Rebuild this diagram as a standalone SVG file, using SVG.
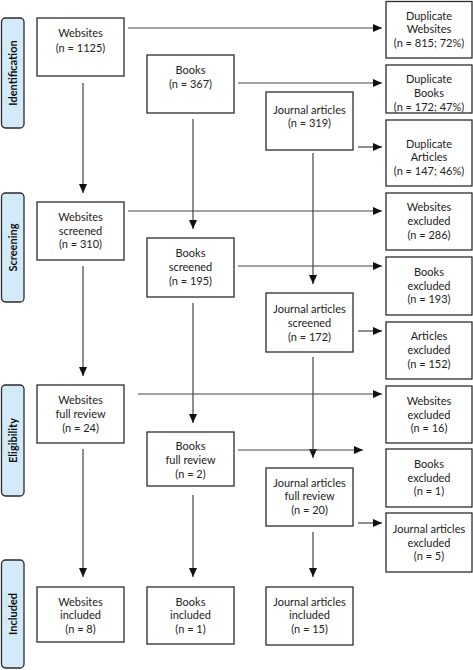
<svg xmlns="http://www.w3.org/2000/svg" width="473" height="670" viewBox="0 0 473 670">
<defs>
<style>
.bg{fill:#ffffff}
.box{fill:#ffffff;stroke:#2b2b2b;stroke-width:1.3}
.stage{fill:#d3eaf9;stroke:#2b2b2b;stroke-width:1.3}
.t{font-family:Lato,"Liberation Sans",sans-serif;font-size:11px;fill:#222;text-anchor:middle}
.st{font-family:Lato,"Liberation Sans",sans-serif;font-size:11px;font-weight:bold;fill:#111;text-anchor:middle}
.c{stroke:#444;stroke-width:1.2;fill:none;marker-end:url(#ah)}
</style>
<marker id="ah" markerUnits="userSpaceOnUse" markerWidth="9" markerHeight="8" refX="9" refY="4" orient="auto">
<path d="M0,0 L9,4 L0,8 z" fill="#111"/>
</marker>
</defs>
<rect class="bg" x="0" y="0" width="473" height="670"/>

<g id="stages">
<g id="stage-identification"><rect class="stage" x="1.5" y="18" width="22.5" height="110" rx="4"/><text class="st" transform="translate(16.5,73) rotate(-90)">Identification</text></g>
<g id="stage-screening"><rect class="stage" x="1.5" y="193" width="22.5" height="109" rx="4"/><text class="st" transform="translate(16.5,247.5) rotate(-90)">Screening</text></g>
<g id="stage-eligibility"><rect class="stage" x="1.5" y="385" width="22.5" height="111" rx="4"/><text class="st" transform="translate(16.5,440.5) rotate(-90)">Eligibility</text></g>
<g id="stage-included"><rect class="stage" x="1.5" y="560" width="22.5" height="108" rx="4"/><text class="st" transform="translate(16.5,614) rotate(-90)">Included</text></g>
</g>

<g id="connectors">
<line class="c" x1="128" y1="28" x2="382" y2="28"/>
<line class="c" x1="238" y1="83" x2="382" y2="83"/>
<line class="c" x1="358" y1="147" x2="382" y2="147"/>
<line class="c" x1="83" y1="83" x2="83" y2="193"/>
<line class="c" x1="193" y1="119" x2="193" y2="229"/>
<line class="c" x1="313" y1="153" x2="313" y2="284"/>
<line class="c" x1="128" y1="211" x2="382" y2="211"/>
<line class="c" x1="238" y1="266" x2="382" y2="266"/>
<line class="c" x1="358" y1="331" x2="382" y2="331"/>
<line class="c" x1="83" y1="266" x2="83" y2="376"/>
<line class="c" x1="193" y1="303" x2="193" y2="423"/>
<line class="c" x1="313" y1="357" x2="313" y2="458"/>
<line class="c" x1="138" y1="394" x2="382" y2="394"/>
<line class="c" x1="238" y1="450" x2="363" y2="450"/>
<line class="c" x1="358" y1="523" x2="382" y2="523"/>
<line class="c" x1="83" y1="449" x2="83" y2="577"/>
<line class="c" x1="193" y1="495" x2="193" y2="577"/>
<line class="c" x1="313" y1="532" x2="313" y2="577"/>
</g>

<g id="websites"><rect class="box" x="37" y="18" width="87" height="58"/><text class="t" x="80.5" y="37">Websites</text><text class="t" x="80.5" y="52">(n = 1125)</text></g>
<g id="books"><rect class="box" x="147" y="55" width="87" height="58"/><text class="t" x="190.5" y="74">Books</text><text class="t" x="190.5" y="88">(n = 367)</text></g>
<g id="journal"><rect class="box" x="266" y="92" width="87" height="58"/><text class="t" x="309.5" y="114">Journal articles</text><text class="t" x="309.5" y="127">(n = 319)</text></g>

<g id="dup-websites"><rect class="box" x="386" y="1.5" width="86" height="56.5"/><text class="t" x="429" y="20">Duplicate</text><text class="t" x="429" y="33">Websites</text><text class="t" x="429" y="47">(n = 815; 72%)</text></g>
<g id="dup-books"><rect class="box" x="386" y="65" width="86" height="48"/><text class="t" x="429" y="83">Duplicate</text><text class="t" x="429" y="97">Books</text><text class="t" x="429" y="111">(n = 172; 47%)</text></g>
<g id="dup-articles"><rect class="box" x="386" y="120" width="86" height="66"/><text class="t" x="429" y="148">Duplicate</text><text class="t" x="429" y="161">Articles</text><text class="t" x="429" y="175">(n = 147; 46%)</text></g>

<g id="websites-screened"><rect class="box" x="37" y="202" width="87" height="58"/><text class="t" x="80.5" y="221">Websites</text><text class="t" x="80.5" y="235">screened</text><text class="t" x="80.5" y="248">(n = 310)</text></g>
<g id="books-screened"><rect class="box" x="147" y="238" width="87" height="59"/><text class="t" x="190.5" y="257">Books</text><text class="t" x="190.5" y="271">screened</text><text class="t" x="190.5" y="285">(n = 195)</text></g>
<g id="journal-screened"><rect class="box" x="266" y="293" width="87" height="59"/><text class="t" x="309.5" y="313">Journal articles</text><text class="t" x="309.5" y="327">screened</text><text class="t" x="309.5" y="341">(n = 172)</text></g>

<g id="websites-excluded-1"><rect class="box" x="386" y="193" width="86" height="57"/><text class="t" x="429" y="211">Websites</text><text class="t" x="429" y="225">excluded</text><text class="t" x="429" y="239">(n = 286)</text></g>
<g id="books-excluded-1"><rect class="box" x="386" y="257" width="86" height="58"/><text class="t" x="429" y="276">Books</text><text class="t" x="429" y="290">excluded</text><text class="t" x="429" y="303">(n = 193)</text></g>
<g id="articles-excluded"><rect class="box" x="386" y="322" width="86" height="57"/><text class="t" x="429" y="340">Articles</text><text class="t" x="429" y="354">excluded</text><text class="t" x="429" y="368">(n = 152)</text></g>

<g id="websites-full"><rect class="box" x="37" y="385" width="87" height="58"/><text class="t" x="80.5" y="404">Websites</text><text class="t" x="80.5" y="418">full review</text><text class="t" x="80.5" y="432">(n = 24)</text></g>
<g id="books-full"><rect class="box" x="147" y="432" width="87" height="54"/><text class="t" x="190.5" y="450">Books</text><text class="t" x="190.5" y="464">full review</text><text class="t" x="190.5" y="478">(n = 2)</text></g>
<g id="journal-full"><rect class="box" x="266" y="468" width="87" height="58"/><text class="t" x="309.5" y="487">Journal articles</text><text class="t" x="309.5" y="500">full review</text><text class="t" x="309.5" y="514">(n = 20)</text></g>

<g id="websites-excluded-2"><rect class="box" x="386" y="386" width="86" height="57"/><text class="t" x="429" y="405">Websites</text><text class="t" x="429" y="419">excluded</text><text class="t" x="429" y="432">(n = 16)</text></g>
<g id="books-excluded-2"><rect class="box" x="386" y="449" width="86" height="58"/><text class="t" x="429" y="468">Books</text><text class="t" x="429" y="482">excluded</text><text class="t" x="429" y="495">(n = 1)</text></g>
<g id="journal-excluded"><rect class="box" x="386" y="513" width="86" height="59"/><text class="t" x="429" y="533">Journal articles</text><text class="t" x="429" y="547">excluded</text><text class="t" x="429" y="560">(n = 5)</text></g>

<g id="websites-included"><rect class="box" x="37" y="587" width="87" height="55"/><text class="t" x="80.5" y="606">Websites</text><text class="t" x="80.5" y="619">included</text><text class="t" x="80.5" y="633">(n = 8)</text></g>
<g id="books-included"><rect class="box" x="147" y="587" width="87" height="57"/><text class="t" x="190.5" y="606">Books</text><text class="t" x="190.5" y="619">included</text><text class="t" x="190.5" y="633">(n = 1)</text></g>
<g id="journal-included"><rect class="box" x="266" y="587" width="87" height="58"/><text class="t" x="309.5" y="606">Journal articles</text><text class="t" x="309.5" y="619">included</text><text class="t" x="309.5" y="633">(n = 15)</text></g>
</svg>
